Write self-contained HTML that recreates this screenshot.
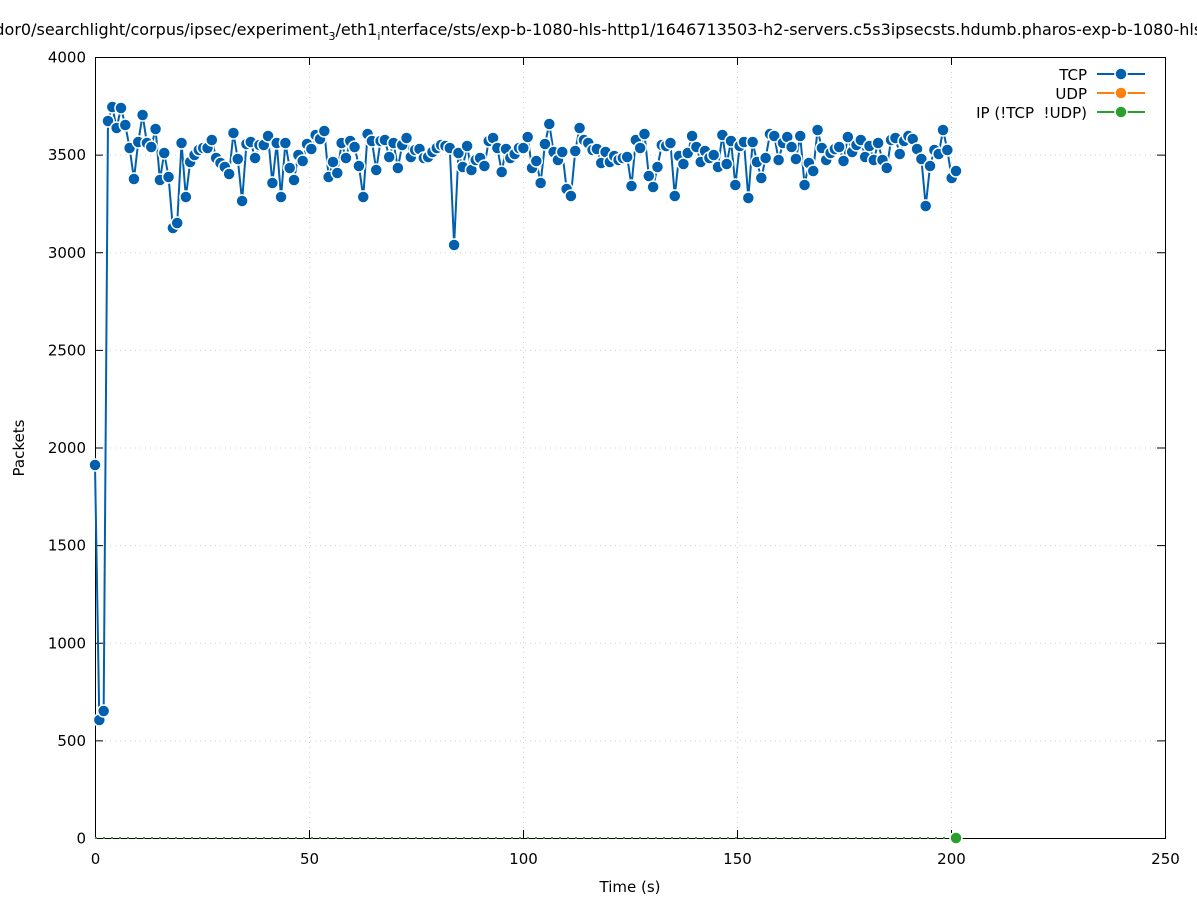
<!DOCTYPE html>
<html><head><meta charset="utf-8"><style>
html,body{margin:0;padding:0;background:#fff}
svg{display:block}
text{font-family:"DejaVu Sans","Liberation Sans",sans-serif;fill:#000}
</style></head><body>
<svg id="s" width="1197" height="900" xmlns="http://www.w3.org/2000/svg">
<rect width="1197" height="900" fill="#fff"/>
<g id="grid" stroke="#d0d0d0" stroke-width="1" stroke-dasharray="1,4"></g>
<rect x="95.5" y="57.5" width="1070" height="781" fill="none" stroke="#000" stroke-width="1"/>
<g id="ticks" stroke="#000" stroke-width="1"></g>
<g id="labels" font-size="15"></g>
<text x="588" y="35" font-size="16" text-anchor="middle">/home/jcdor0/searchlight/corpus/ipsec/experiment<tspan font-size="11" dy="5">3</tspan><tspan dy="-5">/eth1</tspan><tspan font-size="11" dy="5">i</tspan><tspan dy="-5">nterface/sts/exp-b-1080-hls-http1/1646713503-h2-servers.c5s3ipsecsts.hdumb.pharos-exp-b-1080-hls-http1</tspan></text>
<text x="630" y="892" font-size="15" text-anchor="middle">Time (s)</text>
<text transform="translate(24,448) rotate(-90)" font-size="15" text-anchor="middle">Packets</text>
<line x1="95" y1="838" x2="956" y2="838" stroke="#2ca02c" stroke-width="2" stroke-dasharray="2,6"/>
<g id="series"></g>
<circle cx="956" cy="838" r="6" fill="#2ca02c" stroke="#fff" stroke-width="1.5"/>
<g font-size="15">
<text x="1087" y="80" text-anchor="end">TCP</text>
<line x1="1097" y1="74" x2="1145" y2="74" stroke="#0060ad" stroke-width="2"/>
<circle cx="1121" cy="74" r="6" fill="#0060ad" stroke="#fff" stroke-width="1.5"/>
<text x="1087" y="99" text-anchor="end">UDP</text>
<line x1="1097" y1="93" x2="1145" y2="93" stroke="#ff7f0e" stroke-width="2"/>
<circle cx="1121" cy="93" r="6" fill="#ff7f0e" stroke="#fff" stroke-width="1.5"/>
<text x="1087" y="118" text-anchor="end" xml:space="preserve">IP (!TCP  !UDP)</text>
<line x1="1097" y1="112" x2="1145" y2="112" stroke="#2ca02c" stroke-width="2"/>
<circle cx="1121" cy="112" r="6" fill="#2ca02c" stroke="#fff" stroke-width="1.5"/>
</g>
</svg>
<script>
var NS="http://www.w3.org/2000/svg";
function el(p,t,a){var e=document.createElementNS(NS,t);for(var k in a)e.setAttribute(k,a[k]);p.appendChild(e);return e;}
var g=document.getElementById('grid'),tk=document.getElementById('ticks'),lb=document.getElementById('labels');
for(var i=0;i<=5;i++){var x=95.5+i*214;
 if(i>0&&i<5)el(g,'line',{x1:x,y1:57,x2:x,y2:838});
 el(tk,'line',{x1:x,y1:838,x2:x,y2:830});el(tk,'line',{x1:x,y1:57,x2:x,y2:65});
 var t=el(lb,'text',{x:x,y:864,'text-anchor':'middle'});t.textContent=i*50;}
for(var i=0;i<=8;i++){var y=838.5-i*97.625;
 if(i>0&&i<8)el(g,'line',{x1:95,y1:y,x2:1165,y2:y});
 el(tk,'line',{x1:95,y1:y,x2:103,y2:y});el(tk,'line',{x1:1165,y1:y,x2:1157,y2:y});
 var t=el(lb,'text',{x:86,y:y+5,'text-anchor':'end'});t.textContent=i*500;}
var Y=[465,720,711,121,107,128,108,125,148,179,142,115,143,147,129,180,153,177,228,223,143,197,162,155,150,148,148,140,158,163,167,174,133,159,201,144,142,158,145,145,136,183,143,197,143,168,180,155,161,144,149,135,139,131,177,162,173,143,158,141,147,166,197,134,141,170,141,140,157,143,168,145,138,157,150,149,158,157,152,148,145,146,148,245,153,167,146,170,160,158,166,141,138,148,172,149,158,154,148,148,137,168,161,183,144,124,152,160,152,189,196,151,128,140,143,150,149,163,152,162,156,160,158,157,186,140,148,134,176,187,167,145,146,143,196,156,164,153,136,147,162,151,158,155,167,135,164,141,185,146,142,198,142,162,178,158,134,136,160,143,137,147,159,136,185,163,171,130,148,160,153,149,147,161,137,152,145,140,157,146,160,143,160,168,140,138,154,141,136,139,149,159,206,166,150,154,130,150,178,171];
var s=document.getElementById('series'),n=Y.length,pts=[];
for(var i=0;i<n;i++){pts.push([95+i*(956-95)/(n-1),Y[i]]);}
el(s,'polyline',{points:pts.map(function(p){return p.join(',')}).join(' '),fill:'none',stroke:'#0060ad','stroke-width':2});
pts.forEach(function(p){el(s,'circle',{cx:p[0],cy:p[1],r:6,fill:'#0060ad',stroke:'#fff','stroke-width':1.5});});
</script>
</body></html>
